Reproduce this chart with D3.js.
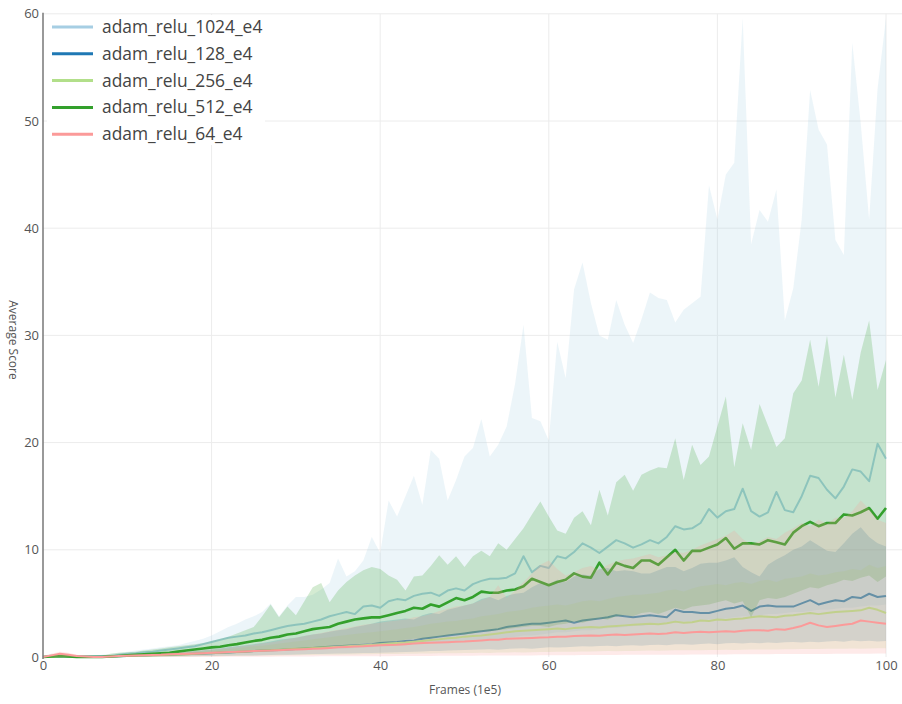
<!DOCTYPE html>
<html>
<head>
<meta charset="utf-8">
<script src="https://cdn.jsdelivr.net/npm/d3@7"></script>
<style>
  html, body { margin: 0; padding: 0; background: #fff; }
  svg { display: block; font-family: "Open Sans", "Noto Sans", sans-serif; }
</style>
</head>
<body>
<svg id="chart" width="902" height="704"></svg>
<script>
// Training runs: average score per frame bucket (x in units of 1e5 frames)
const seriesNames = ["adam_relu_1024_e4", "adam_relu_128_e4", "adam_relu_256_e4", "adam_relu_512_e4", "adam_relu_64_e4"];
const seriesColors = ["#a6cee3", "#1f78b4", "#b2df8a", "#33a02c", "#fb9a99"];
const xTicks = [0, 20, 40, 60, 80, 100];
const yTicks = [0, 10, 20, 30, 40, 50, 60];
const frames = d3.range(0, 101);

const mean1024 = [0,0.1,0.05,0.1,0,0,0,0.05,0.1,0.2, 0.3,0.35,0.45,0.5,0.6,0.7,0.8,0.9,1.0,1.2, 1.4,1.6,1.8,1.9,2.0,2.2,2.3,2.5,2.7,2.9, 3.0,3.1,3.3,3.5,3.8,4.0,4.2,4.0,4.7,4.8, 4.6,5.2,5.4,5.3,5.7,5.9,6.0,5.7,6.2,6.4, 6.2,6.8,7.1,7.3,7.3,7.4,7.8,9.4,7.9,8.5, 8.3,9.4,9.2,9.8,10.6,10.2,9.7,10.3,10.9,10.6, 10.2,10.5,10.9,10.6,11.2,12.2,11.9,12.0,12.5,13.8, 13.0,13.6,13.8,15.7,13.6,13.1,13.5,15.4,13.7,13.5, 15.0,16.9,16.7,15.6,14.8,15.9,17.5,17.3,16.4,19.9, 18.5];
const high1024 = [0.1,0.3,0.2,0.3,0.1,0.1,0.1,0.2,0.3,0.4, 0.5,0.6,0.7,0.8,0.9,1.0,1.1,1.3,1.5,1.7, 2.0,2.4,2.8,3.1,3.5,3.8,4.2,5.0,3.8,4.8, 5.6,5.6,5.8,6.3,6.9,9.2,7.5,8.0,9.0,11.2, 9.7,14.6,13.1,15.0,16.9,14.2,19.3,18.5,14.6,16.5, 18.7,19.5,22.2,18.7,19.8,21.5,25.5,31.0,22.3,22.0, 20.2,29.4,26.0,34.3,36.8,33.0,30.0,29.6,33.3,31.0, 29.3,31.5,34.0,33.5,33.3,31.2,32.4,33.0,33.6,44.0, 40.8,45.0,46.1,59.6,38.5,41.7,40.6,43.6,31.4,34.4, 40.8,52.9,49.2,47.8,38.9,37.5,57.3,49.8,40.8,53.0, 59.6];
const low1024 = [0,0,0,0,0,0,0,0,0,0, 0.05,0.05,0.1,0.1,0.1,0.15,0.15,0.2,0.2,0.25, 0.3,0.3,0.35,0.4,0.4,0.45,0.5,0.5,0.55,0.6, 0.6,0.65,0.7,0.7,0.75,0.8,0.8,0.85,0.9,0.9, 1.0,1.0,1.1,1.1,1.2,1.2,1.3,1.3,1.4,1.4, 1.5,1.6,1.6,1.7,1.7,1.8,1.9,2.0,2.0,2.1, 2.2,2.3,2.3,2.4,2.5,2.5,2.6,2.7,2.7,2.8, 2.9,2.9,3.0,3.1,3.1,3.2,3.3,3.3,3.4,3.5, 3.5,3.6,3.7,3.8,3.8,3.9,4.0,4.0,4.1,4.2, 4.2,4.3,4.4,4.4,4.5,4.6,4.6,4.7,4.8,4.8, 4.9];

const mean128 = [0,0,0.05,0.05,0.05,0.05,0.05,0.05,0.05,0.08, 0.1,0.12,0.15,0.18,0.2,0.22,0.25,0.28,0.3,0.33, 0.36,0.4,0.43,0.46,0.5,0.55,0.6,0.62,0.66,0.7, 0.75,0.8,0.85,0.9,0.95,1.0,1.05,1.1,1.15,1.2, 1.3,1.35,1.4,1.5,1.55,1.7,1.8,1.9,2.0,2.1, 2.2,2.3,2.4,2.5,2.6,2.8,2.9,3.0,3.1,3.1, 3.2,3.3,3.4,3.2,3.4,3.5,3.6,3.7,3.9,3.8, 3.7,3.8,3.9,3.8,3.7,4.4,4.2,4.2,4.1,4.1, 4.3,4.5,4.6,4.8,4.3,4.7,4.8,4.7,4.7,4.7, 5.0,5.3,4.9,5.1,5.3,5.2,5.6,5.5,5.9,5.6, 5.7];
const high128 = [0.05,0.1,0.15,0.1,0.1,0.1,0.1,0.1,0.15,0.2, 0.25,0.28,0.3,0.33,0.36,0.4,0.45,0.5,0.55,0.62, 0.7,0.8,0.9,1.0,1.1,1.2,1.3,1.45,1.6,1.7, 1.8,1.95,2.1,2.2,2.35,2.5,2.6,2.8,2.95,3.1, 3.3,3.4,3.5,3.6,3.5,3.9,4.1,4.0,4.4,4.6, 4.8,5.0,5.4,5.6,5.3,5.7,5.9,6.0,6.5,6.9, 6.8,7.2,7.0,7.5,7.7,7.6,8.2,8.3,8.0,8.1, 8.0,7.8,7.8,8.1,8.4,8.4,8.0,8.3,8.7,8.8, 8.8,9.0,9.3,8.4,7.9,7.5,8.6,9.1,9.5,10.0, 10.3,10.9,10.4,9.9,9.8,10.6,11.5,12.1,11.2,10.6, 10.3];
const low128 = [0,0,0,0,0,0,0,0,0,0, 0,0,0.02,0.03,0.04,0.05,0.06,0.07,0.08,0.09, 0.1,0.11,0.12,0.13,0.14,0.15,0.16,0.18,0.2,0.21, 0.23,0.25,0.27,0.28,0.3,0.32,0.33,0.35,0.37,0.38, 0.4,0.42,0.45,0.47,0.5,0.52,0.55,0.57,0.6,0.62, 0.65,0.67,0.7,0.72,0.68,0.75,0.8,0.82,0.78,0.85, 0.9,0.88,0.92,0.95,1.0,0.97,1.02,1.05,1.0,1.08, 1.1,1.05,1.12,1.15,1.1,1.18,1.2,1.15,1.22,1.25, 1.2,1.28,1.3,1.25,1.32,1.28,1.35,1.3,1.38,1.4, 1.35,1.42,1.38,1.45,1.5,1.42,1.55,1.48,1.52,1.45, 1.5];

const mean256 = [0,0,0.05,0.05,0.03,0.03,0.03,0.03,0.05,0.07, 0.1,0.12,0.14,0.16,0.18,0.2,0.23,0.26,0.3,0.34, 0.38,0.42,0.45,0.48,0.52,0.55,0.6,0.63,0.67,0.72, 0.76,0.8,0.85,0.88,0.92,0.96,1.0,1.05,1.1,1.15, 1.2,1.25,1.3,1.35,1.42,1.5,1.58,1.65,1.75,1.8, 1.9,1.95,2.0,2.1,2.2,2.3,2.4,2.45,2.5,2.55, 2.6,2.65,2.6,2.7,2.75,2.8,2.75,2.85,2.9,2.95, 3.0,3.05,3.1,3.05,3.15,3.3,3.2,3.25,3.4,3.35, 3.5,3.45,3.55,3.6,3.7,3.8,3.75,3.7,3.85,3.9, 4.0,4.1,4.0,4.1,4.2,4.25,4.3,4.35,4.6,4.4, 4.1];
const high256 = [0.05,0.1,0.1,0.1,0.08,0.08,0.08,0.08,0.1,0.15, 0.2,0.22,0.25,0.28,0.3,0.33,0.37,0.42,0.48,0.54, 0.6,0.68,0.75,0.82,0.9,1.0,1.05,1.15,1.25,1.35, 1.45,1.55,1.65,1.75,1.85,1.95,2.05,2.15,2.25,2.3, 2.4,2.5,2.6,2.7,2.8,2.95,3.1,3.2,3.3,3.35, 3.5,3.6,3.8,3.9,4.0,4.2,4.3,4.4,4.6,4.7, 4.8,4.9,4.8,5.0,5.2,5.3,5.2,5.4,5.6,5.7, 5.8,5.8,5.9,6.0,6.2,6.3,6.1,6.4,6.6,6.7, 6.8,6.7,6.9,7.0,6.8,7.1,7.2,7.0,7.3,7.4, 7.5,7.8,7.6,7.7,7.9,8.0,8.2,8.1,8.6,8.3, 8.5];
const low256 = [0,0,0,0,0,0,0,0,0,0, 0,0,0,0.01,0.02,0.03,0.04,0.05,0.06,0.07, 0.08,0.09,0.1,0.1,0.11,0.12,0.13,0.14,0.15,0.16, 0.17,0.18,0.19,0.2,0.21,0.22,0.23,0.24,0.25,0.26, 0.27,0.28,0.29,0.3,0.31,0.32,0.33,0.34,0.35,0.36, 0.37,0.38,0.4,0.38,0.41,0.42,0.44,0.43,0.45,0.46, 0.47,0.48,0.5,0.49,0.51,0.52,0.53,0.55,0.54,0.56, 0.57,0.58,0.6,0.59,0.61,0.62,0.63,0.62,0.64,0.65, 0.66,0.67,0.66,0.68,0.69,0.7,0.71,0.7,0.72,0.73, 0.74,0.75,0.74,0.76,0.77,0.78,0.79,0.78,0.8,0.81, 0.82];

const mean512 = [0,0.05,0.1,0.05,0,0,0,0,0.05,0.1, 0.15,0.2,0.25,0.3,0.35,0.4,0.5,0.6,0.7,0.8, 0.9,0.95,1.1,1.2,1.35,1.5,1.6,1.8,1.9,2.1, 2.2,2.4,2.6,2.7,2.8,3.1,3.3,3.5,3.6,3.7, 3.7,3.9,4.1,4.3,4.6,4.5,4.9,4.7,5.1,5.5, 5.3,5.6,6.1,6.0,6.0,6.2,6.3,6.6,7.3,7.0, 6.7,7.0,7.2,7.8,7.5,7.4,8.8,7.7,8.8,8.5, 8.3,9.0,9.0,8.6,9.3,10.0,9.0,9.9,9.9,10.2, 10.5,11.1,10.1,10.6,10.6,10.5,10.9,10.7,10.5,11.6, 12.2,12.6,12.2,12.5,12.5,13.3,13.2,13.5,13.9,12.9, 13.9];
const high512 = [0.1,0.2,0.2,0.1,0.05,0.05,0.05,0.1,0.3,0.4, 0.45,0.5,0.6,0.7,0.8,0.9,1.0,1.1,1.2,1.3, 1.5,1.7,1.9,2.2,2.5,2.8,3.8,4.9,3.7,4.7, 3.9,5.2,6.5,6.9,5.1,6.2,7.0,7.6,8.1,8.4, 8.2,7.6,7.2,6.2,7.5,7.6,8.5,9.5,8.6,9.4, 8.4,9.4,9.9,9.4,10.6,10.0,11.0,12.0,13.3,14.5, 13.1,11.8,11.5,13.0,13.6,12.3,15.6,13.2,16.3,17.0, 15.5,17.0,17.4,17.7,17.6,20.4,16.5,19.8,17.9,18.7, 21.5,24.3,17.7,21.8,19.3,23.6,21.6,19.6,20.4,24.6, 25.8,29.6,25.2,30.0,24.2,28.2,24.0,28.4,31.4,24.9, 27.7];
const low512 = [0,0,0,0,0,0,0,0,0,0, 0,0.02,0.05,0.05,0.08,0.1,0.12,0.15,0.2,0.22, 0.25,0.3,0.32,0.35,0.4,0.45,0.5,0.55,0.6,0.65, 0.7,0.8,0.85,0.9,1.0,1.05,1.1,1.2,1.25,1.3, 1.3,1.4,1.5,1.6,1.7,1.7,1.8,1.9,2.0,2.1, 2.1,2.2,2.4,2.4,2.5,2.6,2.7,2.8,2.9,2.9, 2.8,3.0,3.1,3.3,3.2,3.4,3.6,3.5,3.8,3.9, 3.8,4.1,4.2,4.0,4.3,4.6,4.4,4.7,4.8,4.9, 5.1,5.3,5.0,5.2,3.7,5.3,5.5,5.4,5.6,5.9, 6.2,6.5,6.4,6.7,6.9,7.2,7.1,7.4,7.6,7.0, 7.5];

const mean64 = [0,0.15,0.3,0.2,0.1,0.05,0,0,0.05,0.1, 0.12,0.14,0.16,0.18,0.2,0.25,0.27,0.3,0.33,0.36, 0.4,0.43,0.46,0.48,0.52,0.55,0.58,0.6,0.64,0.67, 0.7,0.73,0.77,0.8,0.85,0.9,0.93,0.97,1.0,1.05, 1.1,1.12,1.15,1.2,1.25,1.3,1.32,1.35,1.38,1.42, 1.45,1.5,1.55,1.6,1.62,1.7,1.72,1.75,1.78,1.82, 1.85,1.9,1.88,1.95,1.98,2.0,1.98,2.05,2.1,2.05, 2.1,2.15,2.2,2.15,2.2,2.3,2.25,2.3,2.35,2.3, 2.35,2.4,2.35,2.45,2.5,2.5,2.45,2.6,2.55,2.7, 2.9,3.2,2.95,2.8,2.9,3.0,3.1,3.4,3.3,3.2, 3.1];
const high64 = [0.1,0.3,0.5,0.4,0.2,0.1,0.05,0.05,0.1,0.15, 0.2,0.23,0.26,0.3,0.33,0.37,0.42,0.48,0.55,0.62, 0.7,0.78,0.86,0.95,1.05,1.15,1.25,1.35,1.5,1.65, 1.8,1.95,2.1,2.25,2.4,2.55,2.7,2.85,3.0,3.1, 3.2,3.3,3.4,3.5,3.7,3.8,4.0,4.3,4.5,4.7, 4.8,5.0,5.3,5.6,6.7,5.5,6.2,7.0,7.8,8.6, 9.0,8.2,7.6,7.9,8.3,8.5,8.1,8.6,8.9,9.1, 9.2,9.4,9.6,9.3,9.5,9.8,9.7,10.0,10.4,10.7, 11.0,11.3,11.8,11.0,10.5,10.8,11.2,11.0,11.6,12.0, 12.5,12.2,12.8,12.4,13.0,13.0,13.6,14.6,13.8,12.8, 12.5];
const low64 = [0,0,0,0,0,0,0,0,0,0, 0,0,0,0,0,0,0,0,0,0, 0.01,0.01,0.02,0.02,0.02,0.03,0.03,0.03,0.04,0.04, 0.05,0.05,0.05,0.06,0.06,0.06,0.07,0.07,0.07,0.08, 0.08,0.08,0.09,0.09,0.1,0.1,0.1,0.11,0.11,0.12, 0.12,0.12,0.13,0.13,0.14,0.14,0.14,0.15,0.15,0.16, 0.16,0.16,0.17,0.17,0.18,0.18,0.18,0.19,0.19,0.2, 0.2,0.2,0.21,0.21,0.22,0.22,0.22,0.23,0.23,0.24, 0.24,0.24,0.25,0.25,0.26,0.26,0.26,0.27,0.27,0.28, 0.28,0.28,0.29,0.29,0.3,0.3,0.3,0.31,0.31,0.32, 0.32];

const means = [mean1024, mean128, mean256, mean512, mean64];
const highs = [high1024, high128, high256, high512, high64];
const lows = [low1024, low128, low256, low512, low64];
const lineWidths = [2, 2, 2, 2.6, 2];

const svg = d3.select("#chart");
const width = 902, height = 704;
const x = d3.scaleLinear().domain([0, 100]).range([43, 886]);
const y = d3.scaleLinear().domain([0, 60]).range([657, 13.8]);

svg.append("rect").attr("width", width).attr("height", height).attr("fill", "#fff");

// grid
const grid = svg.append("g");
grid.selectAll("line.h").data(yTicks.filter(d => d > 0)).join("line")
  .attr("x1", x(0)).attr("x2", width)
  .attr("y1", d => y(d)).attr("y2", d => y(d))
  .attr("stroke", "#ececec").attr("stroke-width", 1);
grid.selectAll("line.v").data(xTicks.filter(d => d > 0)).join("line")
  .attr("x1", d => x(d)).attr("x2", d => x(d))
  .attr("y1", y(60)).attr("y2", y(0))
  .attr("stroke", "#ececec").attr("stroke-width", 1);

// bands and mean lines, one series at a time
const area = d3.area().x(d => x(d.f)).y0(d => y(d.lo)).y1(d => y(d.hi));
const line = d3.line().x(d => x(d.f)).y(d => y(d.m));
const plot = svg.append("g");
seriesNames.forEach((name, i) => {
  const rows = frames.map((f, k) => ({ f, m: means[i][k], hi: highs[i][k], lo: lows[i][k] }));
  plot.append("path").datum(rows).attr("d", area)
    .attr("fill", seriesColors[i]).attr("fill-opacity", 0.21);
  plot.append("path").datum(rows).attr("d", line)
    .attr("fill", "none").attr("stroke", seriesColors[i])
    .attr("stroke-width", lineWidths[i]).attr("stroke-linejoin", "round");
});

// left axis
const yAxis = d3.axisLeft(y).tickValues(yTicks).tickSize(0).tickPadding(4);
const gy = svg.append("g").attr("transform", `translate(${x(0)},0)`).call(yAxis);
gy.select(".domain").attr("stroke", "#777").attr("stroke-width", 1.5)
  .attr("d", `M0,${y(60) - 1}V${y(0) + 2}`);
gy.selectAll("text").attr("fill", "#555").attr("font-size", 13)
  .attr("font-family", "'Open Sans', sans-serif");

// bottom axis labels
const xAxis = d3.axisBottom(x).tickValues(xTicks).tickSize(0).tickPadding(4);
const gx = svg.append("g").attr("transform", `translate(0,${y(0)})`).call(xAxis);
gx.select(".domain").remove();
gx.selectAll("text").attr("fill", "#555").attr("font-size", 13)
  .attr("font-family", "'Open Sans', sans-serif");

svg.append("text").attr("x", 465).attr("y", 694).attr("text-anchor", "middle")
  .attr("fill", "#555").attr("font-size", 12).text("Frames (1e5)");
svg.append("text").attr("transform", "translate(9,340) rotate(90)")
  .attr("text-anchor", "middle").attr("fill", "#555").attr("font-size", 12)
  .text("Average Score");

// legend
const legend = svg.append("g");
legend.append("rect").attr("x", 47).attr("y", 15).attr("width", 218).attr("height", 130)
  .attr("fill", "#fff");
seriesNames.forEach((name, i) => {
  const ly = 27 + i * 26.8;
  legend.append("line").attr("x1", 52).attr("x2", 93).attr("y1", ly).attr("y2", ly)
    .attr("stroke", seriesColors[i]).attr("stroke-width", 3);
  legend.append("text").attr("x", 102).attr("y", ly).attr("dy", "0.35em")
    .attr("fill", "#444").attr("font-size", 17.4).text(name);
});
</script>
</body>
</html>
